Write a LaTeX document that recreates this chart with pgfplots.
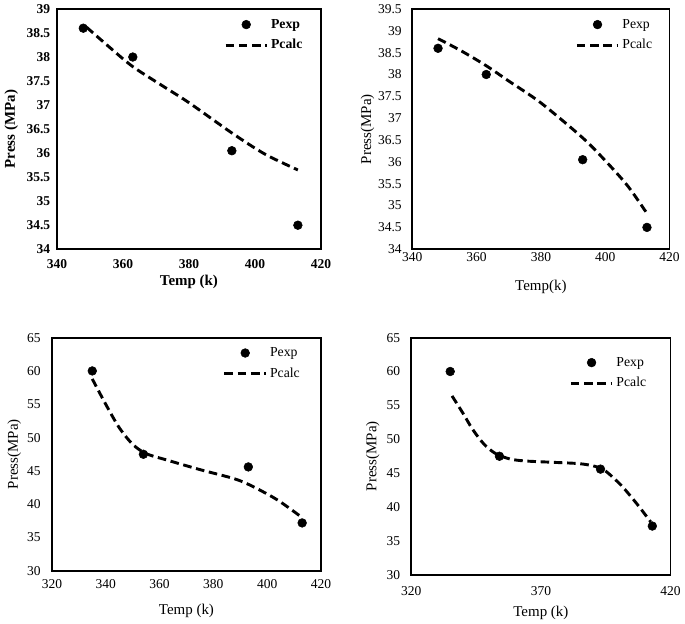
\documentclass[border=0pt]{standalone}
\usepackage{fontspec}
\setmainfont{Liberation Serif}
\usepackage{pgfplots}
\pgfplotsset{compat=1.18}
\pgfplotsset{
  dotlegend/.style={legend image code/.code={\draw[mark repeat=2,mark phase=2,##1] plot coordinates {(0cm,0cm)(0.55cm,0cm)(1.1cm,0cm)};}},
  linelegend/.style={legend image code/.code={\draw[##1] (0cm,0cm) -- (1.1cm,0cm);}},
  panel/.style={
    scale only axis, anchor=south west,
    axis line style={line width=1.4pt},
    tick style={draw=none},
    /pgf/number format/assume math mode=true,
    ticklabel style={font=\fontsize{10.2}{12}\selectfont},
    label style={font=\fontsize{11.3}{13}\selectfont},
    legend style={draw=none, fill=none, inner sep=0pt, row sep=3pt,
      font=\fontsize{10.4}{12}\selectfont, anchor=north west, legend cell align=left},
  },
  expstyle/.style={only marks, mark=*, mark size=3.3pt, black, dotlegend},
  calcstyle/.style={black, line width=2.2pt, dash pattern=on 6.5pt off 3.5pt, smooth, no marks, linelegend},
}
\begin{document}
\begin{tikzpicture}
\path (0,0) rectangle (513.75pt,468.75pt);
% Top left
\begin{axis}[panel, at={(41.25pt,282pt)}, width=199.5pt, height=181.5pt,
  xmin=340, xmax=420, ymin=34, ymax=39,
  xtick={340,360,380,400,420}, ytick={34,34.5,35,35.5,36,36.5,37,37.5,38,38.5,39},
  ticklabel style={font=\fontsize{10.2}{12}\selectfont\bfseries},
  label style={font=\fontsize{11.3}{13}\selectfont\bfseries},
  xticklabel style={yshift=-4pt}, yticklabel style={xshift=-1.5pt},
  xlabel={Temp (k)}, ylabel={Press (MPa)},
  xlabel style={at={(axis description cs:0.5,-0.135)}, anchor=center},
  ylabel style={at={(axis description cs:-0.173,0.5)}, anchor=center},
  legend style={at={(axis description cs:0.632,0.97)}, font=\fontsize{10.4}{12}\selectfont\bfseries},
]
\addplot[expstyle] coordinates {(348,38.6) (363,38.0) (393,36.05) (413,34.5)};
\addlegendentry{Pexp}
\addplot[calcstyle] coordinates {(349,38.62) (356,38.2) (363,37.8) (372,37.4) (380,37.05) (393,36.42) (403,35.98) (413,35.65)};
\addlegendentry{Pcalc}
\end{axis}
% Top right
\begin{axis}[panel, at={(309.75pt,282pt)}, width=194.25pt, height=181.5pt,
  xmin=340, xmax=420, ymin=34, ymax=39.5,
  xtick={340,360,380,400,420}, ytick={34,34.5,35,35.5,36,36.5,37,37.5,38,38.5,39,39.5},
  xticklabel style={yshift=1pt}, yticklabel style={xshift=-4.5pt},
  xlabel={Temp(k)}, ylabel={Press(MPa)},
  xlabel style={at={(axis description cs:0.5,-0.157)}, anchor=center},
  ylabel style={at={(axis description cs:-0.174,0.5)}, anchor=center},
  legend style={at={(axis description cs:0.633,0.97)}},
]
\addplot[expstyle] coordinates {(348,38.6) (363,38.0) (393,36.05) (413,34.5)};
\addlegendentry{Pexp}
\addplot[calcstyle] coordinates {(348,38.82) (355,38.55) (363,38.2) (370,37.85) (380,37.35) (393,36.55) (400,36.03) (407,35.45) (413,34.82)};
\addlegendentry{Pcalc}
\end{axis}
% Bottom left
\begin{axis}[panel, at={(37.5pt,39pt)}, width=203.25pt, height=176.25pt,
  xmin=320, xmax=420, ymin=30, ymax=65,
  xtick={320,340,360,380,400,420}, ytick={30,35,40,45,50,55,60,65},
  xticklabel style={yshift=-2.6pt}, yticklabel style={xshift=-5pt},
  xlabel={Temp (k)}, ylabel={Press(MPa)},
  xlabel style={at={(axis description cs:0.5,-0.17)}, anchor=center},
  ylabel style={at={(axis description cs:-0.14,0.5)}, anchor=center},
  legend style={at={(axis description cs:0.635,0.97)}},
]
\addplot[expstyle] coordinates {(335,60) (354,47.5) (393,45.6) (413,37.2)};
\addlegendentry{Pexp}
\addplot[calcstyle] coordinates {(335,58.8) (340,55.0) (345,51.5) (350,49.0) (355,47.6) (363,46.6) (375,45.2) (388,43.8) (395,42.6) (404,40.6) (413,38.0)};
\addlegendentry{Pcalc}
\end{axis}
% Bottom right
\begin{axis}[panel, at={(309pt,36pt)}, width=195.75pt, height=179.25pt,
  xmin=320, xmax=420, ymin=30, ymax=65,
  xtick={320,370,420}, ytick={30,35,40,45,50,55,60,65},
  xticklabel style={yshift=-5pt}, yticklabel style={xshift=-5pt},
  xlabel={Temp (k)}, ylabel={Press(MPa)},
  xlabel style={at={(axis description cs:0.5,-0.159)}, anchor=center},
  ylabel style={at={(axis description cs:-0.149,0.5)}, anchor=center},
  legend style={at={(axis description cs:0.609,0.93)}},
]
\addplot[expstyle] coordinates {(335,60) (354,47.5) (393,45.6) (413,37.2)};
\addlegendentry{Pexp}
\addplot[calcstyle] coordinates {(335.7,56.4) (340,53.8) (343.6,51.5) (348,49.3) (352.5,47.9) (358,47.1) (364,46.8) (375,46.6) (385,46.4) (391,46.0) (395,45.3) (401,43.2) (407,40.5) (412.4,37.8)};
\addlegendentry{Pcalc}
\end{axis}
\end{tikzpicture}
\end{document}
